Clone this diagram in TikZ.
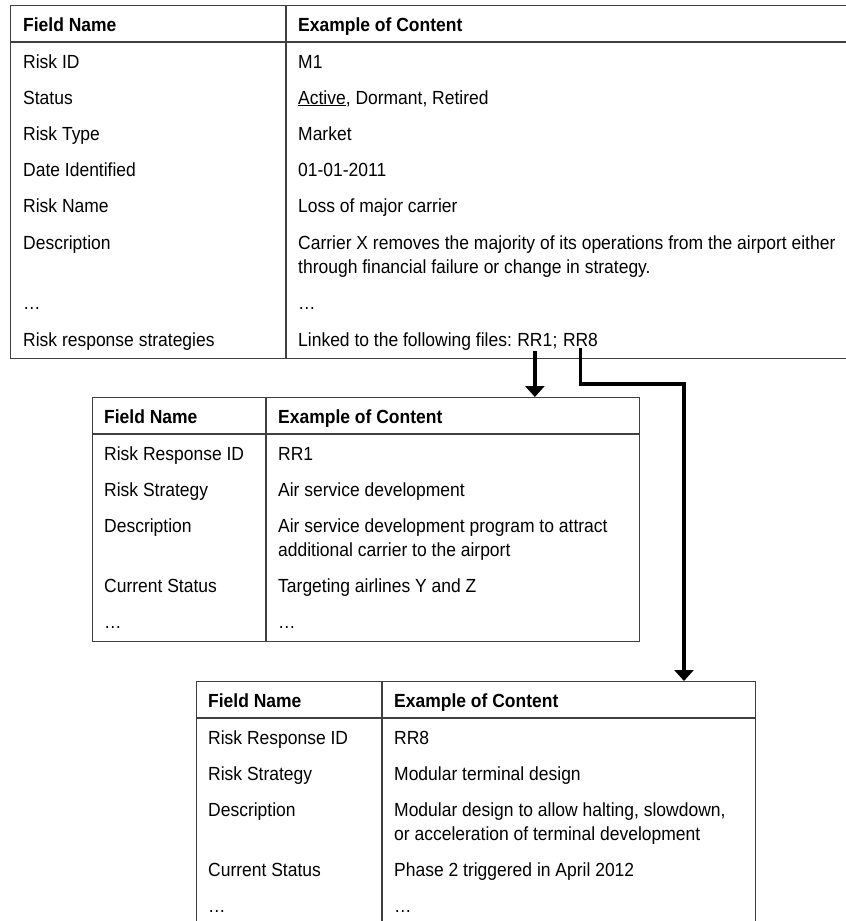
\documentclass[tikz,border=0pt]{standalone}
\usepackage{fontspec}
\setmainfont[FakeStretch=0.92]{Liberation Sans}
\usetikzlibrary{arrows.meta,positioning}

\newcommand{\cellfont}{\fontsize{19}{24}\selectfont}
\newcommand{\twolines}[2]{\vtop{\hbox{#1}\hbox{#2}}}

\tikzset{
  grid/.style={draw=black!75, line width=1.3pt},
  tbl/.style={grid, rectangle, inner sep=0pt, anchor=north west},
  hdr/.style={anchor=base west, inner sep=0pt, font=\cellfont\bfseries},
  txt/.style={anchor=base west, inner sep=0pt, font=\cellfont},
  link/.style={line width=3.5pt, -{Triangle[width=19pt,length=11pt]}},
}

\begin{document}
\begin{tikzpicture}[x=1pt,y=-1pt]
\useasboundingbox (0,0) rectangle (846,921);

% risk register table
\node[tbl, minimum width=840pt, minimum height=353pt] (risk) at (10,5) {};
\draw[grid] (10,42) -- (850,42);
\draw[grid] (286,5) -- (286,358);

\node[hdr] (risk-f) at (23,31) {Field Name};
\node[hdr] (risk-e) at (298,31) {Example of Content};
\node[txt] (risk-f1) at (23,68) {Risk ID};
\node[txt] (risk-e1) at (298,68) {M1};
\node[txt] (risk-f2) at (23,104) {Status};
\node[txt] (risk-e2) at (298,104) {\underline{Active}, Dormant, Retired};
\node[txt] (risk-f3) at (23,140) {Risk Type};
\node[txt] (risk-e3) at (298,140) {Market};
\node[txt] (risk-f4) at (23,176) {Date Identified};
\node[txt] (risk-e4) at (298,176) {01-01-2011};
\node[txt] (risk-f5) at (23,212) {Risk Name};
\node[txt] (risk-e5) at (298,212) {Loss of major carrier};
\node[txt] (risk-f6) at (23,249) {Description};
\node[txt] (risk-e6) at (298,249) {\twolines{Carrier X removes the majority of its operations from the airport either}{through financial failure or change in strategy.}};
\node[txt] (risk-f7) at (23,309) {…};
\node[txt] (risk-e7) at (298,309) {…};
\node[txt] (risk-f8) at (23,346) {Risk response strategies};
\node[txt] (lnk) at (298,346) {Linked to the following files:};
\node[txt, right=5pt of lnk.base east, anchor=base west] (rr1) {RR1};
\node[txt, right=0pt of rr1.base east, anchor=base west] (semi) {;};
\node[txt, right=5pt of semi.base east, anchor=base west] (rr8) {RR8};

% response RR1
\node[tbl, minimum width=547pt, minimum height=244pt] (resp1) at (92,397) {};
\draw[grid] (92,434) -- (639,434);
\draw[grid] (266,397) -- (266,641);

\node[hdr] (resp1-f) at (104,423) {Field Name};
\node[hdr] (resp1-e) at (278,423) {Example of Content};
\node[txt] (resp1-f1) at (104,460) {Risk Response ID};
\node[txt] (resp1-e1) at (278,460) {RR1};
\node[txt] (resp1-f2) at (104,496) {Risk Strategy};
\node[txt] (resp1-e2) at (278,496) {Air service development};
\node[txt] (resp1-f3) at (104,532) {Description};
\node[txt] (resp1-e3) at (278,532) {\twolines{Air service development program to attract}{additional carrier to the airport}};
\node[txt] (resp1-f4) at (104,592) {Current Status};
\node[txt] (resp1-e4) at (278,592) {Targeting airlines Y and Z};
\node[txt] (resp1-f5) at (104,628) {…};
\node[txt] (resp1-e5) at (278,628) {…};

% response RR8
\node[tbl, minimum width=559pt, minimum height=245pt] (resp8) at (196,681) {};
\draw[grid] (196,718) -- (755,718);
\draw[grid] (382,681) -- (382,926);

\node[hdr] (resp8-f) at (208,707) {Field Name};
\node[hdr] (resp8-e) at (394,707) {Example of Content};
\node[txt] (resp8-f1) at (208,744) {Risk Response ID};
\node[txt] (resp8-e1) at (394,744) {RR8};
\node[txt] (resp8-f2) at (208,780) {Risk Strategy};
\node[txt] (resp8-e2) at (394,780) {Modular terminal design};
\node[txt] (resp8-f3) at (208,816) {Description};
\node[txt] (resp8-e3) at (394,816) {\twolines{Modular design to allow halting, slowdown,}{or acceleration of terminal development}};
\node[txt] (resp8-f4) at (208,876) {Current Status};
\node[txt] (resp8-e4) at (394,876) {Phase 2 triggered in April 2012};
\node[txt] (resp8-f5) at (208,912) {…};
\node[txt] (resp8-e5) at (394,912) {…};

% links
\coordinate (bend) at (684,384);
\draw[link] ([yshift=-5pt]rr1.south) -- (rr1.south |- resp1.north);
\draw[link] ([yshift=-2pt]rr8.south) |- (bend) -- (bend |- resp8.north);
\end{tikzpicture}
\end{document}
